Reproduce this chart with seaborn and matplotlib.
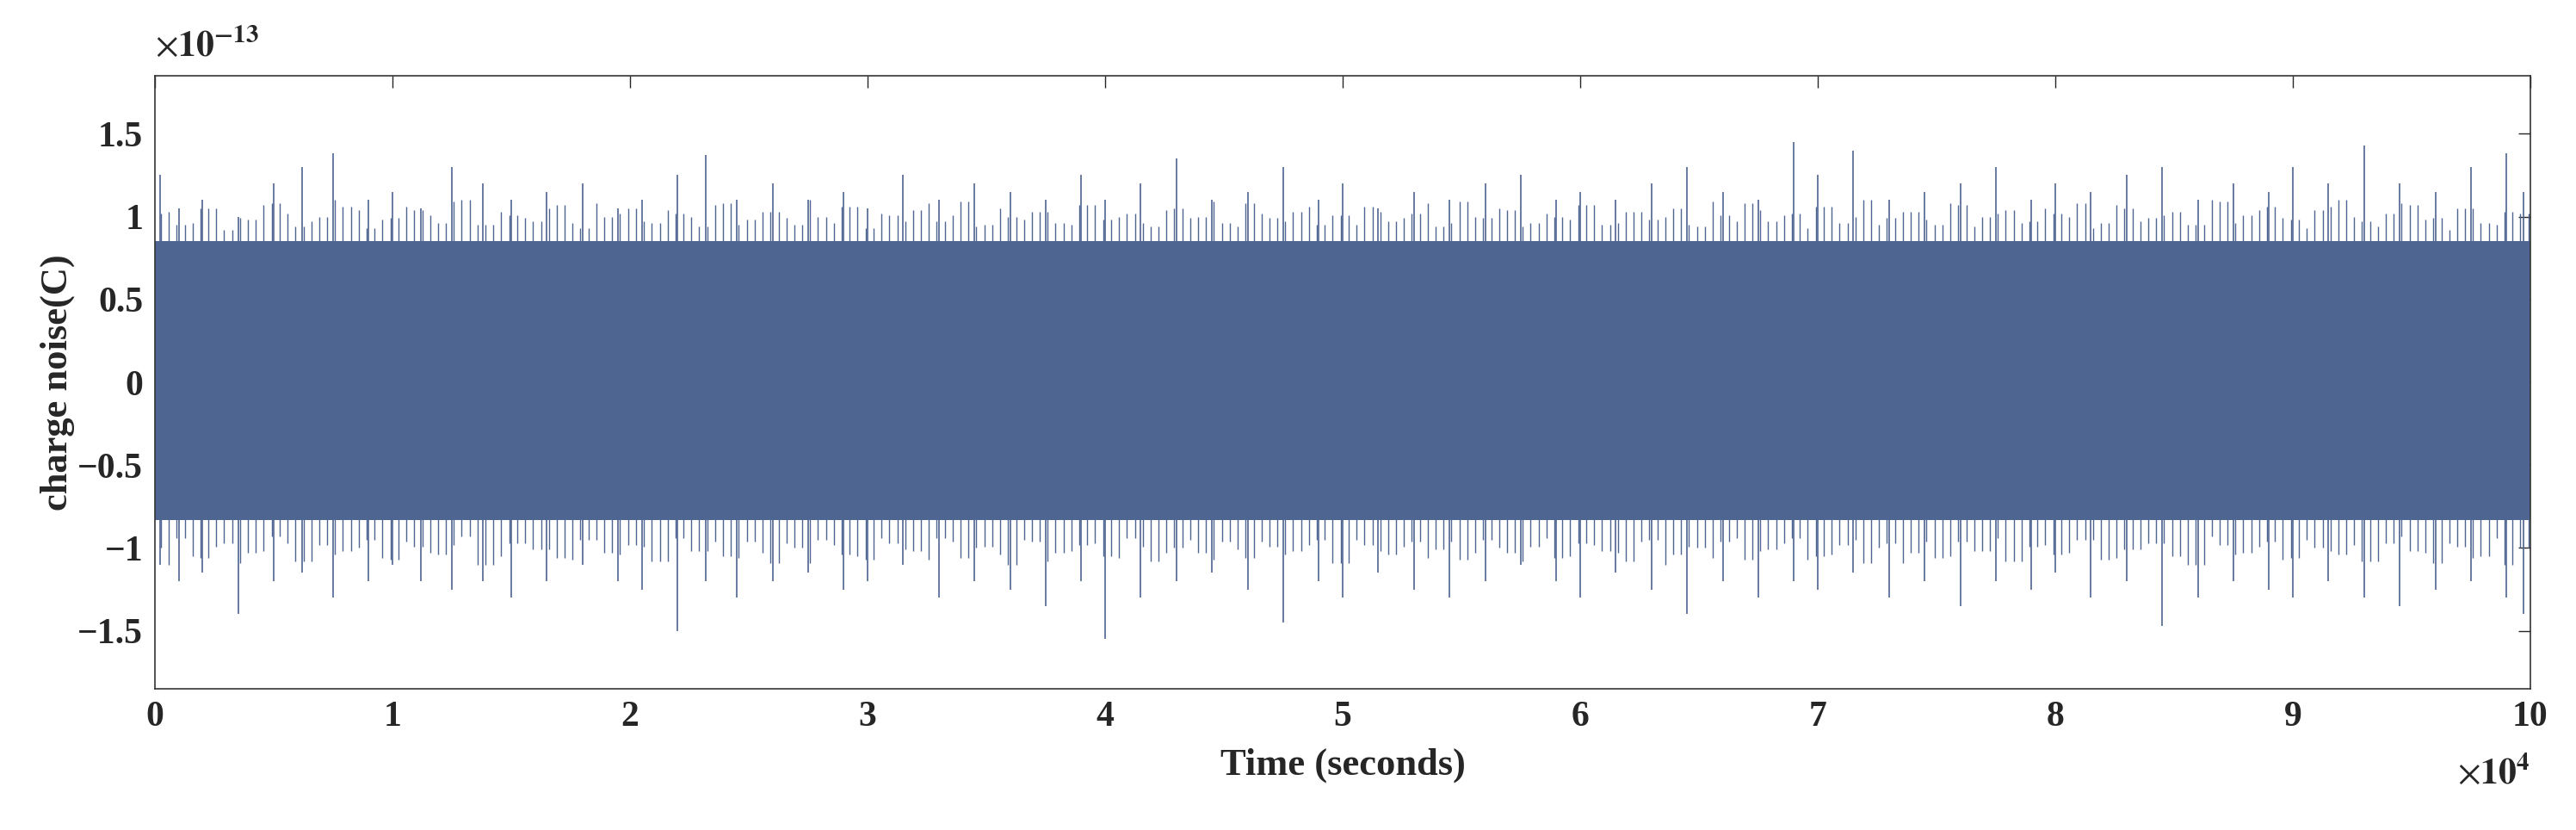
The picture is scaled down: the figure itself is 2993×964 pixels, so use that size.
import numpy as np
import matplotlib
matplotlib.use("Agg")
import matplotlib.pyplot as plt
import seaborn as sns

sns.set_theme(style="white")
plt.rcParams['font.family'] = ['Liberation Serif', 'DejaVu Serif']
plt.rcParams['mathtext.fontset'] = 'stix'

# time in units of 1e4 s, charge in units of 1e-13 C
band_t = [0, 10]
band_hi = [0.85, 0.85]
band_lo = [-0.83, -0.83]
spike_t = [0.02,0.1,0.2,0.35,0.5,0.62,0.75,0.9,1.0,1.12,1.25,1.38,1.5,1.65,1.8,1.95,2.05,2.2,2.32,2.45,2.6,2.75,2.9,3.0,3.15,3.3,3.45,3.6,3.75,3.9,4.0,4.15,4.3,4.45,4.6,4.75,4.9,5.0,5.15,5.3,5.45,5.6,5.75,5.9,6.0,6.15,6.3,6.45,6.6,6.75,6.9,7.0,7.15,7.3,7.45,7.6,7.75,7.9,8.0,8.15,8.3,8.45,8.6,8.75,8.9,9.0,9.15,9.3,9.45,9.6,9.75,9.9,9.97]
spike_hi = [1.25,1.05,1.1,1.0,1.2,1.3,1.38,1.1,1.15,1.05,1.3,1.2,1.1,1.15,1.2,1.05,1.1,1.25,1.37,1.1,1.2,1.1,1.15,1.05,1.25,1.1,1.2,1.15,1.1,1.25,1.1,1.2,1.35,1.1,1.15,1.3,1.1,1.2,1.05,1.15,1.1,1.2,1.25,1.1,1.15,1.1,1.2,1.3,1.15,1.1,1.45,1.25,1.4,1.1,1.15,1.2,1.3,1.1,1.2,1.15,1.25,1.3,1.1,1.2,1.15,1.3,1.2,1.43,1.2,1.15,1.3,1.38,1.15]
spike_lo = [-1.1,-1.2,-1.15,-1.4,-1.2,-1.15,-1.3,-1.2,-1.1,-1.2,-1.25,-1.2,-1.3,-1.2,-1.1,-1.2,-1.25,-1.5,-1.2,-1.3,-1.2,-1.15,-1.25,-1.2,-1.1,-1.3,-1.2,-1.25,-1.35,-1.2,-1.55,-1.3,-1.2,-1.15,-1.25,-1.45,-1.2,-1.3,-1.15,-1.25,-1.3,-1.2,-1.1,-1.2,-1.3,-1.15,-1.25,-1.4,-1.2,-1.3,-1.2,-1.25,-1.15,-1.3,-1.2,-1.35,-1.2,-1.25,-1.15,-1.3,-1.2,-1.47,-1.3,-1.2,-1.25,-1.3,-1.2,-1.3,-1.35,-1.25,-1.2,-1.3,-1.4]
# fringe: ragged edge of the dense band, read every 0.1e4 s
fringe_hi = [1.02,0.95,1.05,0.92,0.98,1.08,0.94,1.0,1.06,0.93,0.99,1.04,0.96,1.1,0.95,1.01,0.97,1.07,0.93,1.0,
             1.05,0.96,1.02,0.94,1.08,0.98,1.03,0.95,1.0,1.06,0.93,1.01,1.04,0.97,1.09,0.95,1.0,1.03,0.96,1.07,
             0.98,1.02,0.94,1.05,1.0,0.96,1.08,0.99,1.03,0.95,1.01,1.06,0.97,1.02,0.94,1.09,0.99,1.04,0.96,1.0,
             1.07,0.95,1.03,0.98,1.05,0.94,1.01,1.08,0.97,1.02,1.06,0.96,1.1,0.99,1.03,0.95,1.07,1.0,1.04,0.97,
             1.02,1.08,0.96,1.05,0.99,1.03,0.95,1.09,1.01,1.06,0.98,1.04,1.1,0.97,1.02,1.07,0.99,1.05,0.96,1.03]
fringe_lo = [-1.0,-0.94,-1.06,-0.97,-1.03,-0.93,-1.08,-0.98,-1.02,-0.95,-1.07,-0.99,-1.04,-0.93,-1.1,-0.97,-1.01,-1.06,-0.95,-1.03,
             -0.98,-1.08,-0.94,-1.02,-1.05,-0.96,-1.09,-1.0,-0.95,-1.04,-1.07,-0.97,-1.02,-0.94,-1.06,-0.99,-1.1,-0.96,-1.03,-0.98,
             -1.05,-0.94,-1.08,-1.0,-1.03,-0.96,-1.06,-0.99,-1.02,-0.95,-1.09,-0.98,-1.04,-0.96,-1.01,-1.07,-0.95,-1.03,-0.99,-1.06,
             -0.97,-1.02,-1.08,-0.95,-1.04,-1.0,-0.96,-1.07,-1.01,-0.94,-1.05,-0.98,-1.09,-0.97,-1.03,-1.06,-0.96,-1.02,-1.08,-0.99,
             -1.04,-0.95,-1.07,-1.01,-0.97,-1.05,-1.1,-0.98,-1.03,-0.96,-1.06,-1.0,-1.04,-1.08,-0.97,-1.02,-1.09,-0.99,-1.05,-1.1]
fringe_t = [0.025 + 0.1 * i for i in range(len(fringe_hi))]

color = '#4e6491'
fig = plt.figure(figsize=(29.93, 9.64), dpi=100)
ax = fig.add_axes([180/2993, 1-800/964, (2940-180)/2993, (800-88)/964])

ax.fill_between(band_t, band_lo, band_hi, color=color, lw=0)
for off, rev in [(0.0, False), (0.033, True), (0.066, False)]:
    ts = [t + off for t in fringe_t]
    hi = fringe_hi[::-1] if rev else fringe_hi[1:] + fringe_hi[:1] if off else fringe_hi
    lo = fringe_lo[::-1] if rev else fringe_lo[1:] + fringe_lo[:1] if off else fringe_lo
    ax.vlines(ts, 0, hi, color=color, lw=1.0)
    ax.vlines(ts, lo, 0, color=color, lw=1.0)
ax.vlines(spike_t, 0, spike_hi, color=color, lw=1.2)
ax.vlines(spike_t, spike_lo, 0, color=color, lw=1.2)

ax.set_xlim(0, 10)
ax.set_ylim(-1.85, 1.85)
ax.set_xticks(range(0, 11))
ax.set_yticks([-1.5, -1, -0.5, 0, 0.5, 1, 1.5])
ax.set_yticklabels(['\u22121.5', '\u22121', '\u22120.5', '0', '0.5', '1', '1.5'])
ax.tick_params(direction='in', length=10, width=1, labelsize=30, top=True, right=True, pad=10)
for lab in ax.get_xticklabels() + ax.get_yticklabels():
    lab.set_fontweight('bold')
for s in ax.spines.values():
    s.set_color('#333333'); s.set_linewidth(1.2)
ax.set_xlabel('Time (seconds)', fontsize=32, fontweight='bold', labelpad=12)
ax.set_ylabel('charge noise(C)', fontsize=32, fontweight='bold', labelpad=2)
ax.text(0, 1.02, r'$\times\mathbf{10^{-13}}$', transform=ax.transAxes, fontsize=30, ha='left', va='bottom')
ax.text(1.0, -0.11, r'$\times\mathbf{10^{4}}$', transform=ax.transAxes, fontsize=30, ha='right', va='top')
fig.savefig('out.png', dpi=100)
